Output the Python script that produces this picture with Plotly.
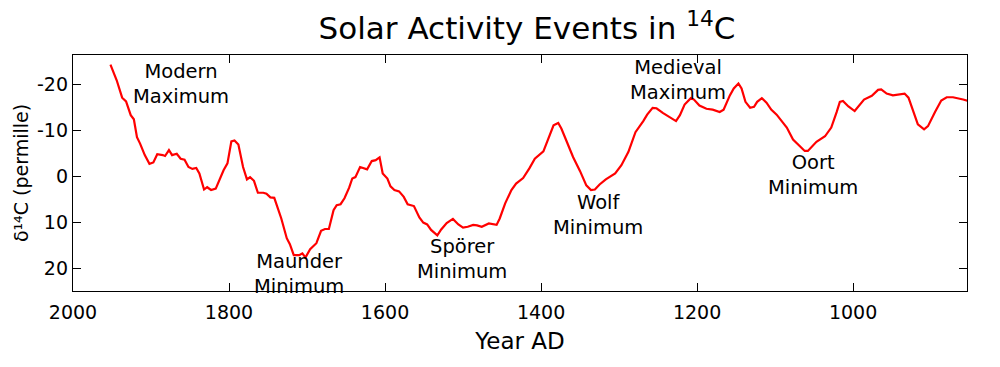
import plotly.graph_objects as go

# ---- data ----
years = [1952, 1944, 1937, 1932, 1926, 1922, 1918, 1914, 1908, 1902, 1897, 1892, 1885, 1882,
         1877, 1873, 1867, 1862, 1857, 1852, 1847, 1842, 1838, 1832, 1828, 1823, 1817, 1812,
         1807, 1802, 1797, 1793, 1788, 1782, 1777, 1773, 1768, 1763, 1756, 1752, 1747, 1742,
         1733, 1726, 1722, 1717, 1710, 1706, 1702, 1696, 1688, 1682, 1677, 1672, 1666, 1662,
         1657, 1652, 1646, 1642, 1638, 1632, 1627, 1623, 1617, 1612, 1607, 1603, 1597, 1593,
         1588, 1582, 1576, 1571, 1563, 1556, 1551, 1546, 1541, 1533, 1528, 1521, 1513, 1506,
         1500, 1494, 1487, 1482, 1476, 1467, 1457, 1453, 1446, 1438, 1432, 1423, 1415, 1408,
         1397, 1391, 1384, 1378, 1374, 1367, 1359, 1350, 1342, 1336, 1331, 1325, 1317, 1305,
         1297, 1288, 1279, 1269, 1264, 1257, 1252, 1244, 1236, 1227, 1222, 1216, 1208, 1204,
         1197, 1188, 1180, 1171, 1166, 1158, 1153, 1147, 1143, 1138, 1132, 1127, 1123, 1117,
         1111, 1105, 1098, 1092, 1085, 1077, 1068, 1062, 1058, 1052, 1047, 1036, 1028, 1021,
         1017, 1013, 1006, 998, 992, 986, 976, 968, 964, 957, 949, 942, 934, 929, 923, 917,
         909, 904, 895, 887, 880, 872, 859, 852]
d14c = [-24.3, -20.9, -17.1, -16.3, -13.3, -12.4, -8.5, -7.1, -4.6, -2.7, -3.0, -4.8, -4.6, -4.4,
        -5.7, -4.6, -4.9, -3.8, -3.6, -2.0, -1.6, -1.8, -0.6, 2.9, 2.4, 3.0, 2.7, 0.5,
        -1.3, -2.8, -7.6, -7.8, -6.9, -2.0, 0.7, 0.2, 1.0, 3.6, 3.6, 3.8, 4.6, 4.7,
        9.2, 13.5, 14.8, 17.2, 17.2, 16.8, 17.7, 15.9, 14.6, 11.9, 11.5, 11.5, 7.4, 6.3,
        6.1, 4.8, 2.5, 0.5, 0.2, -2.0, -1.8, -1.5, -3.3, -3.5, -4.1, -0.6, 0.5, 2.2,
        3.0, 3.3, 4.5, 6.1, 6.5, 9.0, 10.1, 10.5, 11.7, 12.9, 11.6, 10.2, 9.3, 10.5,
        11.2, 11.0, 10.6, 10.7, 11.0, 10.3, 10.6, 9.2, 5.9, 3.0, 1.6, 0.4, -1.7, -3.8,
        -5.4, -8.2, -11.1, -11.6, -10.4, -7.5, -4.2, -1.1, 2.0, 3.0, 2.9, 1.8, 0.7, -0.6,
        -2.4, -5.3, -9.6, -12.0, -13.4, -14.9, -14.8, -13.8, -13.0, -12.0, -13.3, -15.6, -17.0, -16.7,
        -15.4, -14.7, -14.5, -14.0, -14.5, -17.6, -19.1, -20.2, -19.1, -16.2, -14.9, -15.1, -16.2, -17.0,
        -16.0, -14.5, -13.4, -12.2, -10.6, -8.0, -6.6, -5.5, -5.5, -6.5, -7.5, -8.7, -10.6, -14.0,
        -16.2, -16.4, -15.2, -14.2, -15.4, -16.7, -17.5, -18.8, -18.9, -18.0, -17.6, -17.8, -18.0, -17.1, -14.3, -11.3,
        -10.2, -10.9, -14.0, -16.5, -17.2, -17.2, -16.7, -16.4]

x_tickvals = [2000, 1800, 1600, 1400, 1200, 1000]
x_ticktext = ["2000", "1800", "1600", "1400", "1200", "1000"]
y_tickvals = [-20, -10, 0, 10, 20]
y_ticktext = ["-20", "-10", "0", "10", "20"]

# event labels: (text, year, value at label centre)
event_labels = [
    ("Modern<br>Maximum", 1862, -20.0),
    ("Maunder<br>Minimum", 1710, 21.3),
    ("Spörer<br>Minimum", 1501, 18.0),
    ("Wolf<br>Minimum", 1327, 8.4),
    ("Medieval<br>Maximum", 1224, -21.0),
    ("Oort<br>Minimum", 1052, -0.2),
]

FONT = "DejaVu Sans"

fig = go.Figure()
fig.add_trace(go.Scatter(x=years, y=d14c, mode="lines",
                         line=dict(color="#ff0000", width=2.2),
                         showlegend=False, hoverinfo="skip"))

for txt, yr, val in event_labels:
    fig.add_annotation(x=yr, y=val, text=txt, showarrow=False,
                       xanchor="center", yanchor="middle", align="center",
                       font=dict(family=FONT, size=19.5, color="black"))

axis_common = dict(showline=True, linecolor="black", linewidth=1.3, mirror="ticks",
                   ticks="inside", ticklen=8, tickwidth=1, tickcolor="black",
                   showgrid=False, zeroline=False, automargin=False,
                   tickfont=dict(family=FONT, size=19, color="black"))

fig.update_layout(
    width=1000, height=367,
    margin=dict(l=73, r=33, t=55, b=76),
    paper_bgcolor="white", plot_bgcolor="white",
    title=dict(text="Solar Activity Events in <sup>14</sup>C",
               font=dict(family=FONT, size=31, color="black"),
               x=0.527, xref="container", xanchor="center",
               y=1 - 28 / 367, yref="container", yanchor="middle"),
    xaxis=dict(range=[2000, 854], tickvals=x_tickvals, ticktext=x_ticktext,
               ticklabelstandoff=4,
               title=dict(text="Year AD", font=dict(family=FONT, size=23, color="black"),
                          standoff=10),
               **axis_common),
    yaxis=dict(range=[25, -26.4], tickvals=y_tickvals, ticktext=y_ticktext,
               title=dict(text="δ¹⁴C (permille)", font=dict(family=FONT, size=19, color="black"),
                          standoff=3),
               **axis_common),
)

fig.write_html("out.html", config={"displayModeBar": False},
               post_script="document.body.style.margin='0';")
